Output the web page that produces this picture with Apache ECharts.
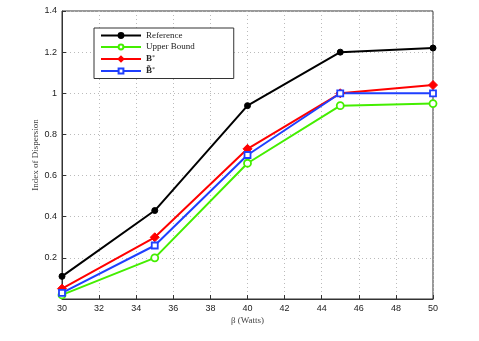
<!DOCTYPE html>
<html>
<head>
<meta charset="utf-8">
<script src="https://cdn.jsdelivr.net/npm/echarts@6/dist/echarts.min.js"></script>
<style>
  html, body { margin: 0; padding: 0; background: #fff; }
  #chart { width: 479px; height: 341px; }
</style>
</head>
<body>
<div id="chart"></div>
<script>
// x = beta (Watts), y = index of dispersion
const betaWatts = [30, 35, 40, 45, 50];
const reference = [0.11, 0.43, 0.94, 1.20, 1.22];
const upperBound = [0.02, 0.20, 0.66, 0.94, 0.95];
const bStar = [0.05, 0.30, 0.73, 1.00, 1.04];
const bTildeStar = [0.03, 0.26, 0.70, 1.00, 1.00];

const xTicks = [30, 32, 34, 36, 38, 40, 42, 44, 46, 48, 50];
const yTicks = [0.2, 0.4, 0.6, 0.8, 1, 1.2, 1.4];

const pairs = (ys) => betaWatts.map((x, i) => [x, ys[i]]);

const serif = '"Liberation Serif", "DejaVu Serif", serif';
const sans = '"Liberation Sans", Arial, sans-serif';

function line(name, data, color, symbol, hollow, size) {
  return {
    name,
    type: 'line',
    data: pairs(data),
    symbol,
    symbolSize: size,
    showAllSymbol: true,
    lineStyle: { color, width: 2 },
    itemStyle: hollow
      ? { color: '#fff', borderColor: color, borderWidth: 1.8 }
      : { color, borderColor: color, borderWidth: 1 },
    emphasis: { disabled: true },
    z: 3,
  };
}

const chart = echarts.init(document.getElementById('chart'), null, { renderer: 'canvas' });

chart.setOption({
  animation: false,
  backgroundColor: '#fff',
  grid: { left: 62, right: 46, top: 11, bottom: 42, show: true, borderColor: '#333', borderWidth: 1 },
  legend: {
    orient: 'vertical',
    left: 94,
    top: 28,
    itemWidth: 40,
    itemHeight: 6,
    itemGap: 2.5,
    padding: [3, 39, 3, 6],
    borderColor: '#333',
    borderWidth: 1,
    backgroundColor: '#fff',
    textStyle: {
      fontFamily: serif, fontSize: 9, color: '#222',
      rich: {
        b: { fontFamily: serif, fontSize: 9, fontWeight: 'bold', color: '#222' },
        s: { fontFamily: serif, fontSize: 6, color: '#222', verticalAlign: 'top', padding: [0, 0, 4, 0] },
      },
    },
    formatter: (n) => {
      if (n === 'B*') return '{b|B}{s|*}';
      if (n === 'B~*') return '{b|B\u0303}{s|*}';
      return n;
    },
    data: ['Reference', 'Upper Bound', 'B*', 'B~*'],
  },
  xAxis: {
    type: 'value',
    min: 30,
    max: 50,
    interval: 2,
    name: 'β (Watts)',
    nameLocation: 'middle',
    nameGap: 17,
    nameMoveOverlap: false,
    nameTextStyle: { fontFamily: serif, fontSize: 9, color: '#444' },
    axisLine: { show: true, onZero: false, lineStyle: { color: '#333' } },
    axisTick: { show: true, inside: true, length: 4, lineStyle: { color: '#333' } },
    axisLabel: { fontFamily: sans, fontSize: 9, color: '#222', margin: 5,
      formatter: (v) => (xTicks.includes(v) ? String(v) : '') },
    splitLine: { show: true, lineStyle: { color: '#bbb', type: [1, 3] } },
  },
  yAxis: {
    type: 'value',
    min: 0,
    max: 1.4,
    interval: 0.2,
    name: 'Index of Dispersion',
    nameLocation: 'middle',
    nameGap: 22,
    nameMoveOverlap: false,
    nameTextStyle: { fontFamily: serif, fontSize: 9, color: '#444' },
    axisLine: { show: true, lineStyle: { color: '#333' } },
    axisTick: { show: true, inside: true, length: 4, lineStyle: { color: '#333' } },
    axisLabel: { fontFamily: sans, fontSize: 9, color: '#222', margin: 5,
      formatter: (v) => {
        const t = yTicks.find((y) => Math.abs(y - v) < 1e-6);
        return t === undefined ? '' : String(t);
      } },
    splitLine: { show: true, lineStyle: { color: '#bbb', type: [1, 3] } },
  },
  series: [
    line('Reference', reference, '#000000', 'circle', false, 6),
    line('Upper Bound', upperBound, '#44ee00', 'circle', true, 7),
    line('B*', bStar, '#ff0000', 'diamond', false, 9),
    line('B~*', bTildeStar, '#1f3fff', 'rect', true, 6),
  ],
});
</script>
</body>
</html>
